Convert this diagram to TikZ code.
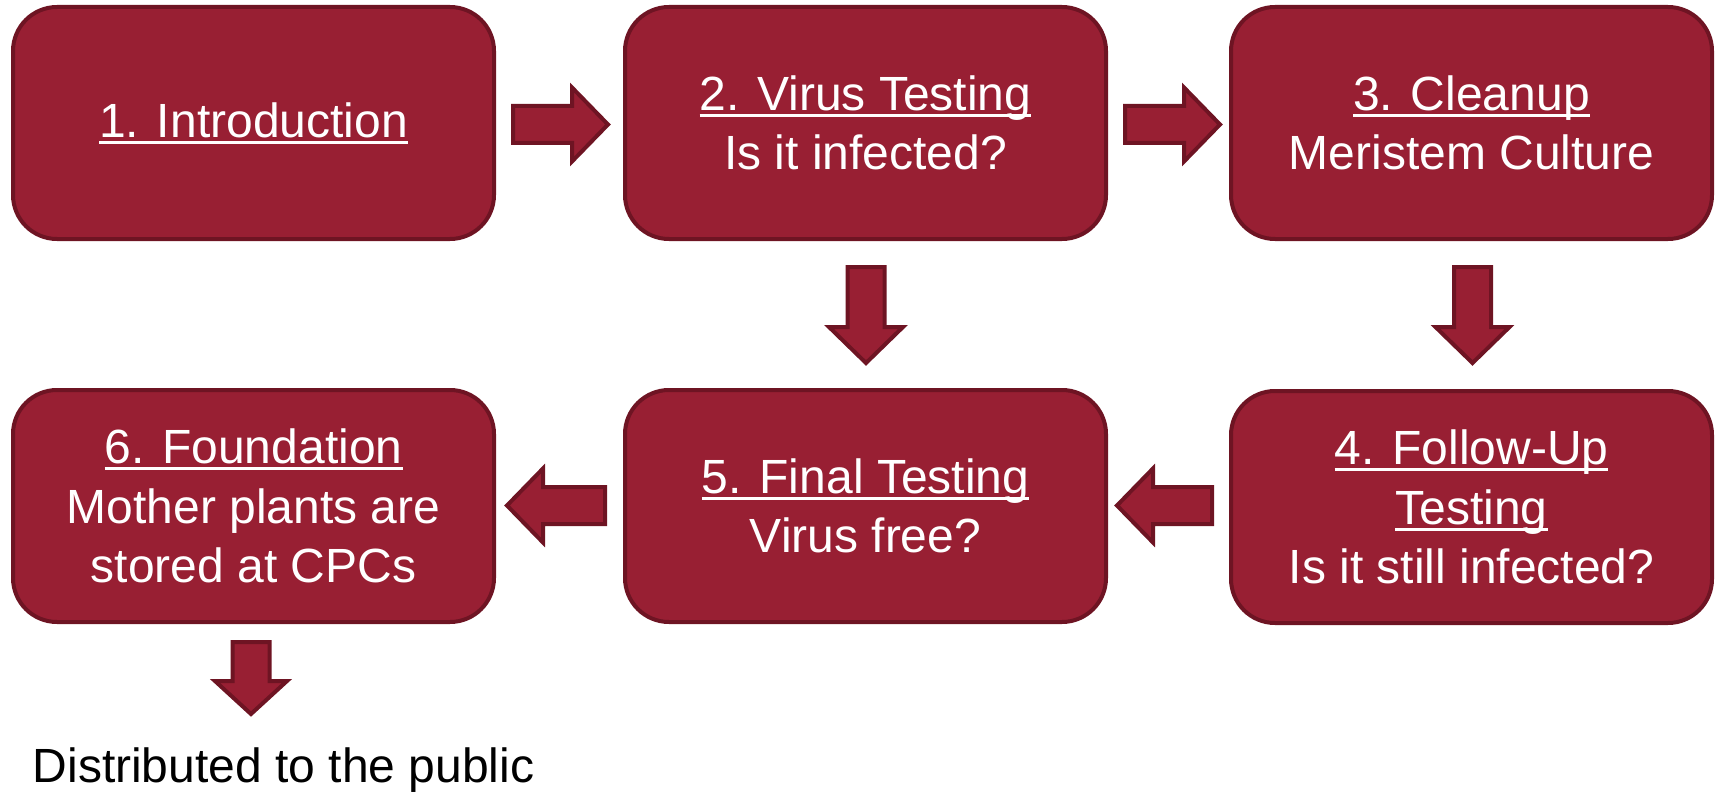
\documentclass[tikz,border=0pt]{standalone}
\usepackage{fontspec}
\setmainfont{Liberation Sans}
\definecolor{boxfill}{RGB}{152,31,51}
\definecolor{boxline}{RGB}{110,20,35}
\newcommand\ulx[1]{\setbox0\hbox{#1}\rlap{\rule[-0.14em]{\wd0}{0.065em}}\box0}
\tikzset{
  x=0.5pt, y=-0.5pt,
  stepbox/.style={draw=boxline, fill=boxfill, line width=2pt, rounded corners=22pt,
    minimum width=240.5pt, minimum height=116pt, text=white, align=center,
    font=\fontsize{24}{29.8}\selectfont, inner sep=0pt},
  arrowstyle/.style={draw=boxline, fill=boxfill, line width=2pt, line join=miter},
  pics/blockarrow/.style={code={
    \draw[arrowstyle] (0,-18.5) -- (#1-36,-18.5) -- (#1-36,-37) -- (#1,0) -- (#1-36,37) -- (#1-36,18.5) -- (0,18.5) -- cycle;}},
  pics/shortarrow/.style={code={
    \draw[arrowstyle] (0,-18.5) -- (#1-33,-18.5) -- (#1-33,-36) -- (#1,0) -- (#1-33,36) -- (#1-33,18.5) -- (0,18.5) -- cycle;}}
}
\begin{document}
\begin{tikzpicture}
\useasboundingbox (0,0) rectangle (1719,792);
\node[stepbox] (b1) at (253.5,123) {\ulx{1. Introduction}};
\node[stepbox] (b2) at (865.5,123) {\ulx{2. Virus Testing}\\Is it infected?};
\node[stepbox] (b3) at (1471.5,123) {\ulx{3. Cleanup}\\Meristem Culture};
\node[stepbox] (b4) at (1471.5,507) {\ulx{4. Follow-Up}\\\ulx{Testing}\\Is it still infected?};
\node[stepbox] (b5) at (865.5,506) {\ulx{5. Final Testing}\\Virus free?};
\node[stepbox] (b6) at (253.5,506) {\ulx{6. Foundation}\\Mother plants are\\stored at CPCs};
\node[anchor=base, font=\fontsize{24}{28.5}\selectfont, inner sep=0pt] (pub) at (283.5,782) {Distributed to the public};
% connectors
\pic (a12) at (513,124.5) {blockarrow=95};
\pic (a23) at (1125,124.5) {blockarrow=95};
\pic[rotate=-90] (a25) at (866,267) {blockarrow=96};
\pic[rotate=-90] (a34) at (1472.5,267) {blockarrow=96};
\pic[rotate=180] (a45) at (1212,505.5) {blockarrow=95};
\pic[rotate=180] (a56) at (605,505.5) {blockarrow=98};
\pic[rotate=-90] (a6p) at (251,642) {shortarrow=72};
\end{tikzpicture}
\end{document}
